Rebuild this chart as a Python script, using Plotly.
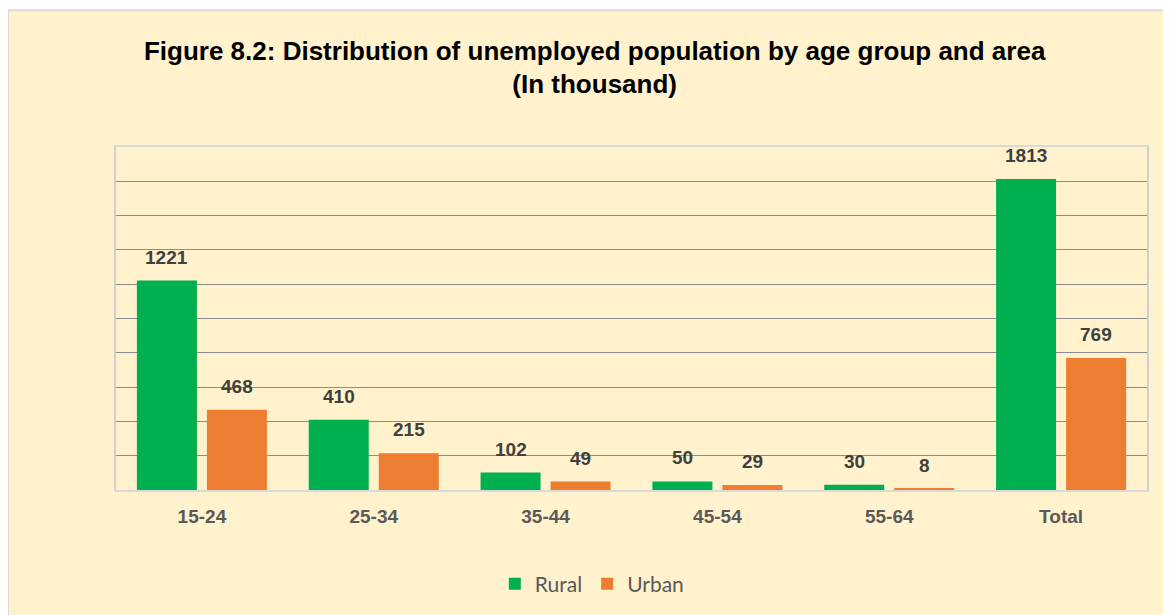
import plotly.graph_objects as go

categories = ["15-24", "25-34", "35-44", "45-54", "55-64", "Total"]
rural = [1221, 410, 102, 50, 30, 1813]
urban = [468, 215, 49, 29, 8, 769]
series_names = ["Rural", "Urban"]
colors = ["#00B050", "#ED7D31"]
title_text = "Figure 8.2: Distribution of unemployed population by age group and area<br>(In thousand)"

NARROW = "Liberation Sans Narrow, Arial Narrow, Liberation Sans, Arial, sans-serif"

fig = go.Figure()
for name, vals, col in zip(series_names, [rural, urban], colors):
    fig.add_trace(go.Bar(name=name, x=categories, y=vals, marker=dict(color=col, line=dict(width=0))))

# data labels
for vals, shift in [(rural, -35), (urban, 35)]:
    for c, v in zip(categories, vals):
        fig.add_annotation(x=c, y=v, xref="x", yref="y", text=str(v), showarrow=False,
                           xshift=shift, yshift=11, yanchor="bottom",
                           font=dict(family=NARROW, size=19, color="#404040", weight="bold"))

# outer chart frame
fig.add_shape(type="rect", xref="paper", yref="paper", x0=-0.1048, x1=1.2, y0=-0.4, y1=1.399,
              fillcolor="#FFF2CC", line=dict(color="#D9D9D9", width=2), layer="below")

fig.update_layout(
    width=1171, height=615,
    paper_bgcolor="white", plot_bgcolor="rgba(0,0,0,0)",
    margin=dict(l=108, r=32, t=139, b=133),
    barmode="group", bargap=0.185, bargroupgap=0.143,
    title=dict(text=title_text, x=0.501, xref="container", xanchor="center",
               y=0.916, yref="container", yanchor="top",
               font=dict(family=NARROW, size=26, color="black", weight="bold")),
    legend=dict(orientation="h", x=0.462, xanchor="center", y=-0.274, yanchor="middle",
                font=dict(family="Lato, Open Sans, sans-serif", size=21, color="#595959"),
                bgcolor="rgba(0,0,0,0)", itemwidth=30, traceorder="normal"),
    showlegend=True,
)
fig.update_xaxes(showline=True, mirror=True, linecolor="#D9D9D9", linewidth=2,
                 ticks="", ticklabelstandoff=8,
                 tickfont=dict(family=NARROW, size=19, color="#595959", weight="bold"))
fig.update_yaxes(range=[0, 2000], dtick=200, showticklabels=False, showgrid=True,
                 gridcolor="#8C8C8C", gridwidth=1, zeroline=False,
                 showline=True, mirror=True, linecolor="#D0D0D0", linewidth=2)

fig.write_html("out.html")
